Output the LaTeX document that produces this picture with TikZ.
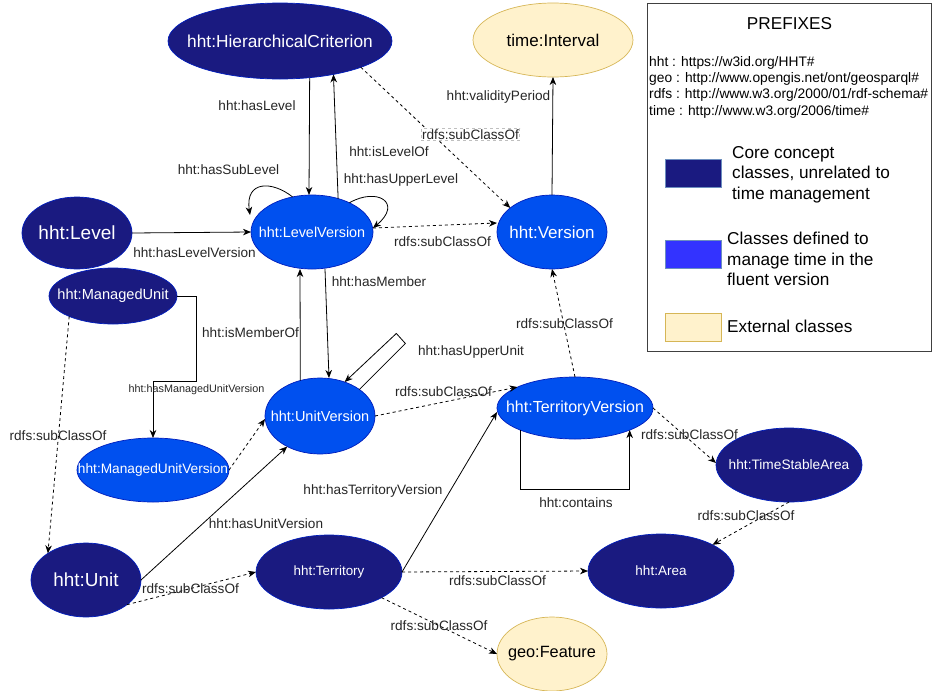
\documentclass[tikz,border=0pt]{standalone}
\usepackage{fontspec}
\setmainfont{Liberation Sans}
\usetikzlibrary{shapes.geometric,arrows.meta}
\definecolor{navy}{HTML}{1A1A80}
\definecolor{vblue}{HTML}{0050EF}
\definecolor{vblueb}{HTML}{001DBC}
\definecolor{lblue}{HTML}{3333FF}
\definecolor{lblueb}{HTML}{6C8EBF}
\definecolor{yel}{HTML}{FFF2CC}
\definecolor{yelb}{HTML}{D6B656}
\newcommand{\fsz}[1]{\fontsize{#1}{#1}\selectfont}
\newcommand{\T}[1]{\makebox[0pt][c]{#1}}
\tikzset{
  cls/.style={ellipse, inner sep=0pt, outer sep=0pt, line width=0.7pt},
  core/.style={cls, fill=navy, draw=vblueb, text=white},
  ver/.style={cls, fill=vblue, draw=vblueb, text=white},
  ext/.style={cls, fill=yel, draw=yelb, text=black},
  sz/.style 2 args={minimum width=#1pt, minimum height=#2pt},
  rel/.style={line width=0.8pt, draw=black, -{Stealth[length=8pt,width=6.5pt,inset=2.5pt]}},
  sub/.style={rel, dash pattern=on 3pt off 3pt},
  lbl/.style={font=\fsz{13.6}, inner sep=0pt, text=black!85},
  swatch/.style={minimum width=56pt, minimum height=28pt, anchor=north west, inner sep=0pt, line width=0.7pt}
}
\begin{document}
\begin{tikzpicture}[x=1pt,y=1pt]
\useasboundingbox (0,0) rectangle (935,-691);
% nodes
\node[core, sz={224}{76}, font=\fsz{17.3}] (hc) at (280,-41) {\T{hht:HierarchicalCriterion}};
\node[ext, sz={160}{74}, font=\fsz{17}] (ti) at (553,-40) {\T{time:Interval}};
\node[core, sz={110}{72}, font=\fsz{19}] (lvl) at (77,-233) {\T{hht:Level}};
\node[ver, sz={122}{74}, font=\fsz{14.4}] (lv) at (312,-232) {\T{hht:LevelVersion}};
\node[ver, sz={110}{74}, font=\fsz{17}] (ver) at (552,-232) {\T{hht:Version}};
\node[core, sz={128}{56}, font=\fsz{14.6}] (mu) at (113,-296) {\T{hht:ManagedUnit}};
\node[ver, sz={152}{64}, font=\fsz{13.7}] (muv) at (153,-470) {\T{hht:ManagedUnitVersion}};
\node[ver, sz={110}{76}, font=\fsz{14.5}] (uv) at (320,-416) {\T{hht:UnitVersion}};
\node[ver, sz={156}{62}, font=\fsz{16}] (tv) at (575,-408) {\T{hht:TerritoryVersion}};
\node[core, sz={146}{74}, font=\fsz{13.7}] (tsa) at (789,-465) {\T{hht:TimeStableArea}};
\node[core, sz={110}{74}, font=\fsz{18.9}] (unit) at (86,-580) {\T{hht:Unit}};
\node[core, sz={146}{74}, font=\fsz{13.4}] (ter) at (329,-572) {\T{hht:Territory}};
\node[core, sz={146}{74}, font=\fsz{13.5}] (area) at (661,-571) {\T{hht:Area}};
\node[ext, sz={110}{74}, font=\fsz{16.3}] (feat) at (552,-654) {\T{geo:Feature}};

% connectors
\draw[rel] (hc.-51.7) -- ([xshift=-3pt]lv.north)
  node[lbl, at={(257,-106)}] {hht:hasLevel};
\draw[rel] (lv.52.2) -- (hc.-32.3)
  node[lbl, at={(389,-152)}] {hht:isLevelOf};
\draw[sub] (hc.-18) -- (ver.150)
  node[lbl, fill=white, draw=black!25, inner sep=1pt, at={(470.5,-134.5)}] {rdfs:subClassOf};
\draw[rel] (lv.119) .. controls +(-20pt,16pt) and +(-5pt,35pt) .. ([shift={(-62pt,17pt)}]lv.center)
  node[lbl, at={(228.5,-170)}] {hht:hasSubLevel};
\draw[rel] (lv.38) .. controls +(28pt,16pt) and +(30pt,25pt) .. ([yshift=4pt]lv.east)
  node[lbl, at={(401,-180)}] {hht:hasUpperLevel};
\draw[rel] (lvl.east) -- (lv.west)
  node[lbl, at={(194.5,-253)}] {hht:hasLevelVersion};
\draw[sub] ([yshift=4pt]lv.east) -- ([yshift=9pt]ver.west)
  node[lbl, at={(442.5,-242)}] {rdfs:subClassOf};
\draw[rel] (ver.north) -- (ti.south)
  node[lbl, at={(498.5,-97)}] {hht:validityPeriod};
\draw[rel] ([xshift=13pt]lv.south) -- ([xshift=9pt]uv.north)
  node[lbl, at={(379,-282)}] {hht:hasMember};
\draw[rel] (uv.119.5) -- ([xshift=-12pt]lv.south)
  node[lbl, at={(250.5,-333)}] {hht:isMemberOf};
\draw[rel] (uv.34) -- ++(46pt,46pt) -- ++(-9pt,10pt) -- (uv.54)
  node[lbl, at={(471,-352)}] {hht:hasUpperUnit};
\draw[sub] (uv.east) -- (tv.160)
  node[lbl, at={(443.5,-392)}] {rdfs:subClassOf};
\draw[sub] (tv.north) -- (ver.south)
  node[lbl, at={(564.5,-324)}] {rdfs:subClassOf};
\draw[rel] (tv.-158) -- ++(0,-59pt) -| (tv.-22)
  node[lbl, at={(576,-503)}] {hht:contains};
\draw[sub] (tv.east) -- ([yshift=2pt]tsa.west)
  node[lbl, at={(689.5,-435)}] {rdfs:subClassOf};
\draw[sub] (tsa.south) -- (area.27)
  node[lbl, at={(746,-516)}] {rdfs:subClassOf};
\draw[sub] (ter.east) -- (area.west)
  node[lbl, at={(497.5,-581)}] {rdfs:subClassOf};
\draw[sub] (ter.-26) -- (feat.west)
  node[lbl, at={(439,-626)}] {rdfs:subClassOf};
\draw[rel] (ter.east) -- ([yshift=-4pt]tv.west)
  node[lbl, at={(373,-491)}] {hht:hasTerritoryVersion};
\draw[rel] (unit.east) -- (uv.-137)
  node[lbl, at={(266,-524)}] {hht:hasUnitVersion};
\draw[sub] (unit.-31) -- (ter.west)
  node[lbl, at={(190.5,-589)}] {rdfs:subClassOf};
\draw[rel] (mu.east) -| ++(19pt,-85pt) -| (muv.north)
  node[lbl, font=\fsz{10.8}, at={(196.5,-390)}] {hht:hasManagedUnitVersion};
\draw[sub] (mu.-155) -- (unit.145)
  node[lbl, at={(58,-436)}] {rdfs:subClassOf};
\draw[sub] (muv.east) -- ([yshift=-3pt]uv.west);

% legend
\node[draw=black!75, line width=0.8pt, minimum width=284pt, minimum height=348pt, anchor=north west, inner sep=0pt] (leg) at (647,-3) {};
\node[font=\fsz{17.2}, inner sep=0pt] (ptitle) at (789.5,-24) {PREFIXES};
\node[anchor=north west, align=left, inner sep=0pt, font=\fontsize{13.8}{16.3}\selectfont] (pfx) at (649,-56)
  {hht : https://w3id.org/HHT\#\\geo : http://www.opengis.net/ont/geosparql\#\\rdfs : http://www.w3.org/2000/01/rdf-schema\#\\time : http://www.w3.org/2006/time\#};
\node[swatch, fill=navy, draw=lblueb] (sw1) at (665,-159) {};
\node[swatch, fill=lblue, draw=lblueb] (sw2) at (665,-240) {};
\node[swatch, fill=yel, draw=yelb] (sw3) at (665,-313) {};
\node[anchor=north west, align=left, inner sep=0pt, font=\fontsize{17.2}{20.5}\selectfont] (lt1) at (732,-146)
  {Core concept\\classes, unrelated to\\time management};
\node[anchor=north west, align=left, inner sep=0pt, font=\fontsize{17.2}{20.5}\selectfont] (lt2) at (727,-232)
  {Classes defined to\\manage time in the\\fluent version};
\node[anchor=north west, align=left, inner sep=0pt, font=\fontsize{17.2}{20.5}\selectfont] (lt3) at (727,-320)
  {External classes};
\end{tikzpicture}
\end{document}
